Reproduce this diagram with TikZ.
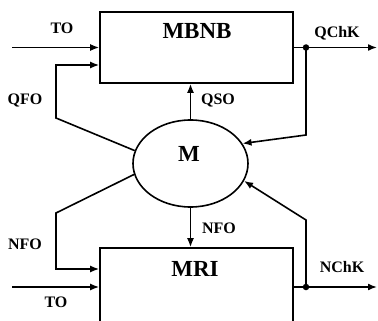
\documentclass[tikz,border=0pt]{standalone}
\usepackage{fontspec}
\setmainfont{Liberation Serif}
\usetikzlibrary{shapes.geometric,arrows.meta}
\begin{document}
\begin{tikzpicture}[x=1pt,y=-1pt,
  arr/.style={line width=1.6pt, -{Latex[length=9pt,width=7pt]}},
  box/.style={draw,line width=1.6pt,rectangle,inner sep=0pt},
  big/.style={font=\bfseries\fontsize{23}{23}\selectfont, inner sep=0pt},
  lbl/.style={font=\bfseries\fontsize{16}{16}\selectfont, inner sep=0pt},
  dot/.style={circle,fill,inner sep=0pt,minimum size=6.5pt}]
\useasboundingbox (0,0) rectangle (378,321);
% blocks
\node[box,minimum width=193pt,minimum height=71pt] (MBNB) at (196.5,47.5) {};
\node[big] (MBNBt) at (197,31) {MBNB};
\node[box,minimum width=193pt,minimum height=90pt] (MRI) at (196.5,293) {};
\node[big] (MRIt) at (195,269) {MRI};
\node[draw,ellipse,line width=1.6pt,inner sep=0pt,minimum width=115pt,minimum height=87pt] (M) at (190.5,163.5) {};
\node[big] (Mt) at (189,154) {M};
% free ends and corners
\coordinate (tin1) at (12,47.5);
\coordinate (qfo1) at (56,118);
\coordinate (qfo2) at (56,65);
\coordinate (qout) at (377,47.5);
\coordinate (qc1) at (306,135);
\coordinate (nf1) at (56,213);
\coordinate (nf2) at (56,269);
\coordinate (tin2) at (12,287);
\coordinate (nout) at (377,287);
\coordinate (nc1) at (306,220);
\node[dot] (dq) at (306,47.5) {};
\node[dot] (dn) at (306,287) {};
% connectors top
\draw[arr] (tin1) -- (tin1 -| MBNB.west);
\draw[arr] (M.167) -- (qfo1) -- (qfo2) -- (qfo2 -| MBNB.west);
\draw[arr] (M.north) -- (M.north |- MBNB.south);
\draw[arr] (MBNB.east) -- (qout);
\draw[arr] (dq.center) -- (qc1) -- (M.21);
% connectors bottom
\draw[arr] (M.191) -- (nf1) -- (nf2) -- (nf2 -| MRI.west);
\draw[arr] (M.south) -- (M.south |- MRI.north);
\draw[arr] (tin2) -- (tin2 -| MRI.west);
\draw[arr] (dn -| MRI.east) -- (nout);
\draw[arr] (dn.center) -- (nc1) -- (M.342);
% labels
\node[lbl] (l1) at (62,28) {TO};
\node[lbl] (l2) at (25,101) {QFO};
\node[lbl] (l3) at (218,101) {QSO};
\node[lbl] (l4) at (337,33) {QChK};
\node[lbl] (l5) at (25,244) {NFO};
\node[lbl] (l6) at (219,228) {NFO};
\node[lbl] (l7) at (342,267) {NChK};
\node[lbl] (l8) at (56,302) {TO};
\end{tikzpicture}
\end{document}
